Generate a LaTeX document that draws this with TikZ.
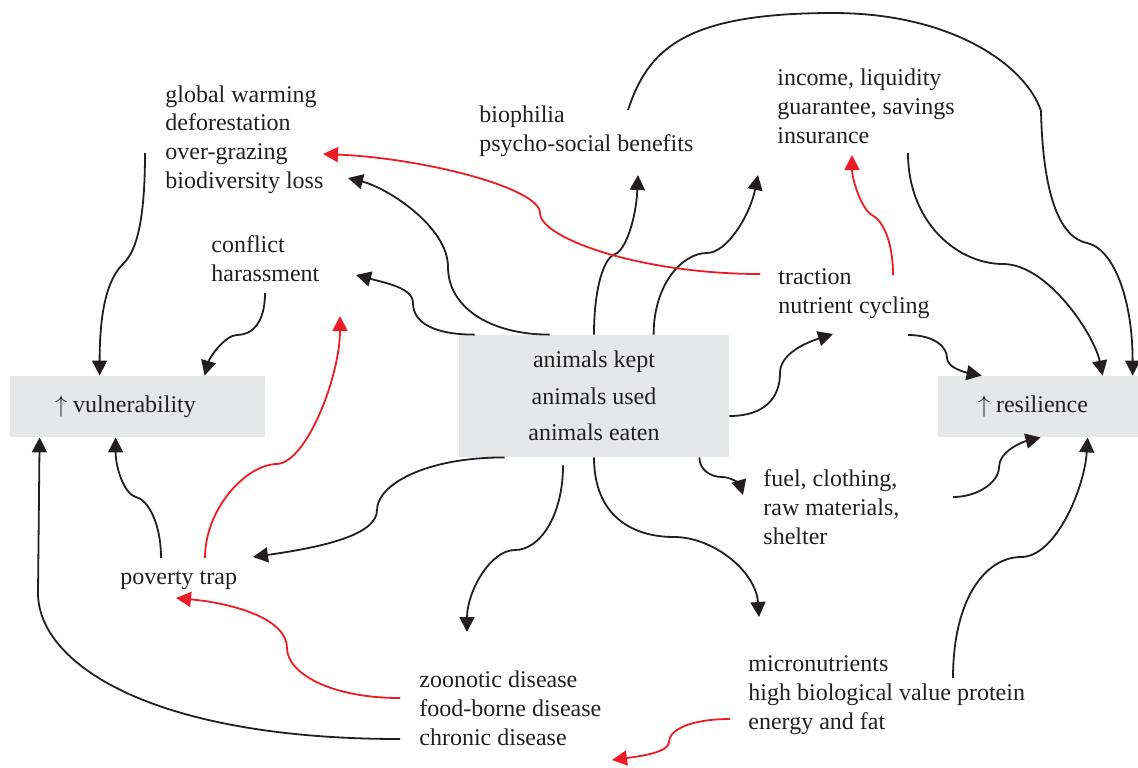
\documentclass[tikz,border=0pt]{standalone}
\usepackage{fontspec}
\setmainfont{Liberation Serif}
\usetikzlibrary{positioning, arrows.meta, calc}

\definecolor{ink}{HTML}{231F20}
\definecolor{linkred}{HTML}{ED1C24}
\definecolor{boxgray}{HTML}{E6E7E8}

\tikzset{
	link/.style={draw=ink, line width=0.9pt, -{Triangle[length=7.5pt,width=7.5pt]}},
	redlink/.style={link, draw=linkred},
	txt/.style={anchor=base west, align=left, inner sep=0pt, text=ink, font=\fontsize{12}{14.3}\selectfont},
	greybox/.style={fill=boxgray, inner sep=0pt, text=ink, align=center, font=\fontsize{12}{18.15}\selectfont},
}

\begin{document}
\begin{tikzpicture}[x=0.5pt, y=-0.5pt]
			\useasboundingbox (0,0) rectangle (1138,767);

			% grey boxes
			\node	(vul)	at	(137.5,406.5)	[greybox, minimum width=127.5pt, minimum height=30.5pt]	{$\uparrow$ vulnerability\hspace*{12pt}};
			\node	(res)	at	(1038,406.5)	[greybox, minimum width=100pt, minimum height=30.5pt]	{$\uparrow$ resilience\hspace*{5pt}};
			\node	(anim)	at	(594,396)		[greybox, minimum width=135pt, minimum height=61pt]		{animals kept\\animals used\\animals eaten};

			% labels (placed at the baseline of their last line)
			\node	(gw)	at	(165,188)	[txt]	{global warming\\deforestation\\over-grazing\\biodiversity loss};
			\node	(conf)	at	(211,281)	[txt]	{conflict\\harassment};
			\node	(bio)	at	(479,151)	[txt]	{biophilia\\psycho-social benefits};
			\node	(inc)	at	(777,143)	[txt]	{income, liquidity\\guarantee, savings\\insurance};
			\node	(trac)	at	(778,313)	[txt]	{traction\\nutrient cycling};
			\node	(fuel)	at	(763,544)	[txt]	{fuel, clothing,\\raw materials,\\shelter};
			\node	(micro)	at	(748,729)	[txt]	{micronutrients\\high biological value protein\\energy and fat};
			\node	(dis)	at	(419,745)	[txt]	{zoonotic disease\\food-borne disease\\chronic disease};
			\node	(pov)	at	(120,584)	[txt]	{poverty trap};

			% free ends
			\coordinate	(gw-out)	at	(145,153);
			\coordinate	(gw-in)		at	(348,178);
			\coordinate	(gw-red)	at	(323,154);
			\coordinate	(conf-out)	at	(265,293);
			\coordinate	(conf-in)	at	(356,275);
			\coordinate	(conf-red)	at	(340,316);
			\coordinate	(bio-in)	at	(638,175);
			\coordinate	(bio-out)	at	(628,110);
			\coordinate	(inc-in)	at	(758,175);
			\coordinate	(inc-red)	at	(852,155);
			\coordinate	(inc-out)	at	(908,153);
			\coordinate	(trac-in)	at	(833,334);
			\coordinate	(trac-gw)	at	(760,274);
			\coordinate	(trac-inc)	at	(893,275);
			\coordinate	(trac-out)	at	(908,335);
			\coordinate	(fuel-in)	at	(743,495);
			\coordinate	(fuel-out)	at	(953,497);
			\coordinate	(micro-in)	at	(759,617);
			\coordinate	(micro-out)	at	(953,678);
			\coordinate	(micro-red)	at	(730,719);
			\coordinate	(dis-in)	at	(467,632);
			\coordinate	(dis-red)	at	(400,698);
			\coordinate	(dis-out)	at	(400,739);
			\coordinate	(dis-red-in)	at	(612,760);
			\coordinate	(pov-in)	at	(253,557);
			\coordinate	(pov-red-in)	at	(176,598);
			\coordinate	(pov-out)	at	(161,558);
			\coordinate	(pov-red)	at	(205,558);

			% into vulnerability
			\draw	[link]	(gw-out) .. controls +(0,80) and +(10,-10) .. (123,264) .. controls +(-10,10) and +(0,-80) .. ($(vul.north west)+(90,0)$);
			\draw	[link]	(conf-out) .. controls +(0,30) and +(15,0) .. (237,335) .. controls +(-12,0) and +(5,-18) .. ($(vul.north west)+(195,0)$);
			\draw	[link]	(dis-out) .. controls +(-250,0) and +(0,70) .. (38,593) -- ($(vul.south west)+(30,0)$);
			\draw	[link]	(pov-out) .. controls +(0,-35) and +(12,3) .. (136,497) .. controls +(-12,-3) and +(0,30) .. ($(vul.south west)+(106,0)$);

			% out of the animals box
			\draw	[link]	($(anim.north west)+(16,0)$) .. controls +(-40,0) and +(0,20) .. (413,303) .. controls +(0,-15) and +(30,8) .. (conf-in);
			\draw	[link]	($(anim.north west)+(91,0)$) .. controls +(-60,0) and +(0,40) .. (448,267) .. controls +(0,-40) and +(40,10) .. (gw-in);
			\draw	[link]	(anim.north) .. controls +(0,-50) and +(-10,3) .. (615,254) .. controls +(10,-3) and +(-2,45) .. (bio-in);
			\draw	[link]	($(anim.north west)+(195,0)$) .. controls +(0,-50) and +(-25,0) .. (707,253) .. controls +(20,0) and +(-8,40) .. (inc-in);
			\draw	[link]	($(anim.east)+(0,20)$) .. controls +(35,0) and +(0,25) .. (780,373) .. controls +(0,-20) and +(-25,8) .. (trac-in);
			\draw	[link]	($(anim.south east)+(-30,0)$) .. controls +(0,12) and +(-12,0) .. (722,477) .. controls +(10,0) and +(-3,-10) .. (fuel-in);
			\draw	[link]	(anim.south) .. controls +(0,60) and +(-40,0) .. (674,537) .. controls +(40,0) and +(-3,-45) .. (micro-in);
			\draw	[link]	($(anim.south)+(-31,8)$) .. controls +(0,50) and +(25,0) .. (515,550) .. controls +(-25,0) and +(0,-40) .. (dis-in);
			\draw	[link]	($(anim.south west)+(46,0)$) .. controls +(-80,0) and +(0,-25) .. (377,510) .. controls +(0,25) and +(70,-10) .. (pov-in);

			% into resilience
			\draw	[link]	(bio-out) .. controls +(20,-60) and +(-150,0) .. (833,13) .. controls +(120,0) and +(-15,-45) .. (1041,111) .. controls +(2,90) and +(-25,-5) .. (1087,243) .. controls +(25,5) and +(0,-80) .. ($(res.north west)+(195,0)$);
			\draw	[link]	(inc-out) .. controls +(0,70) and +(-45,0) .. (1003,264) .. controls +(45,0) and +(-8,-40) .. ($(res.north west)+(165,0)$);
			\draw	[link]	(trac-out) .. controls +(25,0) and +(0,-12) .. (947,358) .. controls +(0,10) and +(-15,-3) .. ($(res.north west)+(44,0)$);
			\draw	[link]	(fuel-out) .. controls +(25,0) and +(0,15) .. (999,467) .. controls +(0,-15) and +(-20,5) .. ($(res.south west)+(103,0)$);
			\draw	[link]	(micro-out) .. controls +(0,-80) and +(-35,0) .. (1021,557) .. controls +(35,0) and +(-3,50) .. ($(res.south west)+(150,0)$);

			% red links
			\draw	[redlink]	(trac-gw) .. controls +(-120,0) and +(0,25) .. (540,213) .. controls +(0,-25) and +(100,4) .. (gw-red);
			\draw	[redlink]	(trac-inc) .. controls +(0,-35) and +(10,5) .. (872,215) .. controls +(-10,-5) and +(0,25) .. (inc-red);
			\draw	[redlink]	(pov-red) .. controls +(0,-50) and +(-30,0) .. (277,464) .. controls +(30,-2) and +(0,60) .. (conf-red);
			\draw	[redlink]	(dis-red) .. controls +(-70,0) and +(0,25) .. (287,648) .. controls +(0,-30) and +(55,5) .. (pov-red-in);
			\draw	[redlink]	(micro-red) .. controls +(-40,0) and +(0,-12) .. (669,742) .. controls +(0,10) and +(30,-4) .. (dis-red-in);
\end{tikzpicture}
\end{document}
